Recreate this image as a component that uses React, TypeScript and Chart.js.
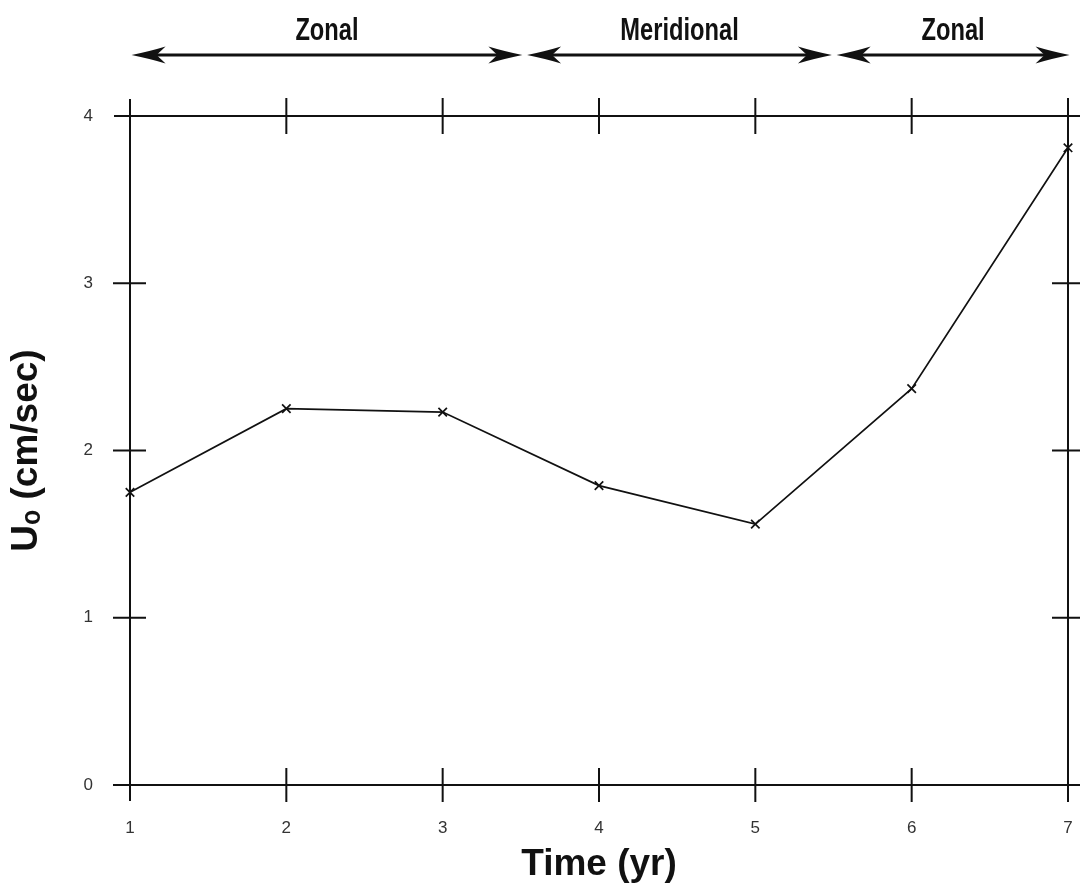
import React, { useEffect, useRef } from "react";
import { Chart, registerables } from "chart.js";

Chart.register(...registerables);

// ---- data ----
const years = [1, 2, 3, 4, 5, 6, 7];
const velocity = [1.75, 2.25, 2.23, 1.79, 1.56, 2.37, 3.81];
const xTickLabels = ["1", "2", "3", "4", "5", "6", "7"];
const yTickLabels = ["0", "1", "2", "3", "4"];
const regimeLabels = ["Zonal", "Meridional", "Zonal"];
const regimeStart = [1.01, 3.54, 5.52];
const regimeEnd = [3.51, 5.49, 7.01];

const INK = "#111";

function arrowHead(ctx: CanvasRenderingContext2D, tipX: number, y: number, dir: number) {
  const L = 34;
  const W = 8.5;
  const notch = 9;
  ctx.beginPath();
  ctx.moveTo(tipX, y);
  ctx.quadraticCurveTo(tipX - dir * L * 0.55, y - W * 0.45, tipX - dir * L, y - W);
  ctx.lineTo(tipX - dir * (L - notch), y);
  ctx.lineTo(tipX - dir * L, y + W);
  ctx.quadraticCurveTo(tipX - dir * L * 0.55, y + W * 0.45, tipX, y);
  ctx.closePath();
  ctx.fill();
}

const framePlugin = {
  id: "frame",
  beforeDatasetsDraw(chart: any) {
    const { ctx, scales } = chart;
    const x = scales.x;
    const y = scales.y;
    const xL = x.getPixelForValue(years[0]);
    const xR = x.getPixelForValue(years[years.length - 1]);
    const yB = y.getPixelForValue(0);
    const yT = y.getPixelForValue(yTickLabels.length - 1);
    const W = chart.width;
    ctx.save();
    ctx.strokeStyle = INK;
    ctx.lineWidth = 2;
    ctx.lineCap = "butt";
    ctx.beginPath();
    // axes / frame
    ctx.moveTo(xL, yT - 17);
    ctx.lineTo(xL, yB + 16);
    ctx.moveTo(xR, yT - 17);
    ctx.lineTo(xR, yB + 16);
    ctx.moveTo(xL - 16, yT);
    ctx.lineTo(W, yT);
    ctx.moveTo(xL - 17, yB);
    ctx.lineTo(W, yB);
    // x ticks crossing top and bottom
    x.ticks.forEach((t: any) => {
      const px = x.getPixelForValue(t.value);
      if (Math.abs(px - xL) < 1) return;
      ctx.moveTo(px, yB - 17);
      ctx.lineTo(px, yB + 17);
      ctx.moveTo(px, yT - 18);
      ctx.lineTo(px, yT + 18);
    });
    // y ticks crossing left and right
    y.ticks.forEach((t: any) => {
      const py = y.getPixelForValue(t.value);
      if (Math.abs(py - yB) < 1 || Math.abs(py - yT) < 1) return;
      ctx.moveTo(xL - 17, py);
      ctx.lineTo(xL + 16, py);
      ctx.moveTo(xR - 16, py);
      ctx.lineTo(W, py);
    });
    ctx.stroke();

    // regime arrows
    const ay = 55;
    ctx.fillStyle = INK;
    ctx.lineWidth = 3;
    regimeLabels.forEach((label, i) => {
      const s = x.getPixelForValue(regimeStart[i]);
      const e = x.getPixelForValue(regimeEnd[i]);
      ctx.beginPath();
      ctx.moveTo(s + 20, ay);
      ctx.lineTo(e - 20, ay);
      ctx.stroke();
      arrowHead(ctx, s, ay, -1);
      arrowHead(ctx, e, ay, 1);
      const cx = (s + e) / 2;
      ctx.save();
      ctx.translate(cx, 40);
      ctx.scale(0.74, 1);
      ctx.font = "bold 32px 'Liberation Sans', Arial, sans-serif";
      ctx.textAlign = "center";
      ctx.textBaseline = "alphabetic";
      ctx.fillText(label, 0, 0);
      ctx.restore();
    });
    ctx.restore();
  },
};

export default function App() {
  const ref = useRef<HTMLCanvasElement | null>(null);
  useEffect(() => {
    if (!ref.current) return;
    const chart = new Chart(ref.current, {
      type: "line",
      data: {
        datasets: [
          {
            data: years.map((yr, i) => ({ x: yr, y: velocity[i] })),
            borderColor: INK,
            borderWidth: 1.7,
            pointStyle: "crossRot",
            pointRadius: 6,
            pointBorderWidth: 1.7,
            pointBorderColor: INK,
            tension: 0,
            fill: false,
            clip: false as any,
          },
        ],
      },
      options: {
        animation: false,
        responsive: false,
        devicePixelRatio: 1,
        layout: { autoPadding: false, padding: { top: 116, right: 12, left: 0, bottom: 0 } },
        plugins: { legend: { display: false }, tooltip: { enabled: false } },
        scales: {
          x: {
            type: "linear",
            min: 1,
            max: 7,
            afterFit: (s: any) => {
              s.height = 105;
              s.paddingLeft = 0;
              s.paddingRight = 0;
            },
            ticks: {
              stepSize: 1,
              padding: 33,
              color: "#333",
              font: { family: "'Liberation Sans', Arial, sans-serif", size: 17 },
              callback: (v: any) => {
                const idx = years.indexOf(Number(v));
                return idx >= 0 ? xTickLabels[idx] : "";
              },
              maxRotation: 0,
            },
            grid: { display: false, drawTicks: false },
            border: { display: false },
            title: {
              display: true,
              text: "Time (yr)",
              color: INK,
              font: { family: "'Liberation Sans', Arial, sans-serif", size: 37, weight: "bold" },
              padding: { top: 0, bottom: 3 },
            },
          },
          y: {
            type: "linear",
            min: 0,
            max: 4,
            afterFit: (s: any) => {
              s.width = 130;
            },
            ticks: {
              stepSize: 1,
              padding: 37,
              color: "#333",
              font: { family: "'Liberation Sans', Arial, sans-serif", size: 17 },
              callback: (v: any) => yTickLabels[Number(v)] ?? "",
            },
            grid: { display: false, drawTicks: false },
            border: { display: false },
            title: {
              display: true,
              text: "Uₒ (cm/sec)",
              color: INK,
              font: { family: "'Liberation Sans', Arial, sans-serif", size: 37, weight: "bold" },
              padding: { top: 5, bottom: 0 },
            },
          },
        },
      },
      plugins: [framePlugin],
    });
    return () => chart.destroy();
  }, []);
  return (
    <div style={{ position: "fixed", left: 0, top: 0, width: 1080, height: 890, background: "#fff" }}>
      <canvas ref={ref} width={1080} height={890} style={{ display: "block" }} />
    </div>
  );
}
